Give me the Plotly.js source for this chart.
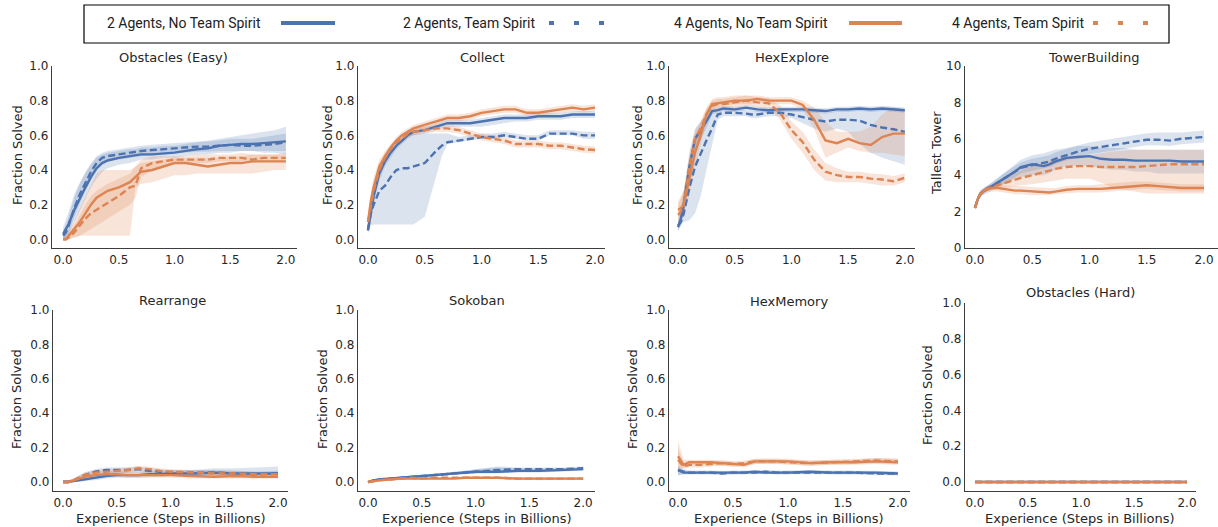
<!DOCTYPE html>
<html>
<head>
<meta charset="utf-8">
<script src="https://cdn.plot.ly/plotly-3.0.1.min.js"></script>
<style>html,body{margin:0;padding:0;background:#fff}#chart{width:1218px;height:527px}</style>
</head>
<body>
<div id="chart"></div>
<script>
// ---------- x grids (billions of steps) ----------
const X1 = [0,0.025,0.05,0.1,0.15,0.2,0.25,0.3,0.35,0.4,0.5,0.6,0.65,0.7,0.8,0.9,1.0,1.1,1.2,1.3,1.4,1.5,1.6,1.7,1.8,1.9,2.0];
const X2 = [0,0.05,0.1,0.2,0.3,0.4,0.5,0.6,0.7,0.8,0.9,1.0,1.2,1.4,1.6,1.8,2.0];

// ---------- labels ----------
const seriesNames = ["2 Agents, No Team Spirit","2 Agents, Team Spirit","4 Agents, No Team Spirit","4 Agents, Team Spirit"];
const panelTitles = ["Obstacles (Easy)","Collect","HexExplore","TowerBuilding","Rearrange","Sokoban","HexMemory","Obstacles (Hard)"];
const yTitles = ["Fraction Solved","Fraction Solved","Fraction Solved","Tallest Tower","Fraction Solved","Fraction Solved","Fraction Solved","Fraction Solved"];
const xTitle = "Experience (Steps in Billions)";

// ---------- Obstacles (Easy) ----------
const oe_b1    = [0.03,0.06,0.09,0.17,0.24,0.30,0.36,0.41,0.44,0.455,0.47,0.48,0.485,0.49,0.49,0.495,0.50,0.51,0.52,0.525,0.54,0.545,0.55,0.55,0.555,0.56,0.565];
const oe_b1_lo = [0.0,0.01,0.03,0.10,0.17,0.24,0.30,0.35,0.39,0.41,0.43,0.44,0.45,0.46,0.46,0.47,0.47,0.48,0.49,0.49,0.50,0.50,0.51,0.51,0.50,0.50,0.49];
const oe_b1_hi = [0.07,0.11,0.16,0.26,0.33,0.38,0.43,0.47,0.49,0.50,0.51,0.52,0.52,0.53,0.53,0.54,0.54,0.55,0.56,0.57,0.58,0.59,0.60,0.61,0.62,0.63,0.65];
const oe_b2    = [0.02,0.04,0.08,0.18,0.26,0.33,0.39,0.44,0.47,0.48,0.49,0.50,0.505,0.51,0.515,0.52,0.525,0.53,0.535,0.535,0.54,0.545,0.54,0.54,0.545,0.55,0.56];
const oe_b2_lo = [0.0,0.01,0.04,0.13,0.21,0.28,0.34,0.40,0.44,0.45,0.46,0.47,0.475,0.48,0.485,0.49,0.495,0.50,0.505,0.505,0.51,0.51,0.51,0.51,0.51,0.51,0.51];
const oe_b2_hi = [0.05,0.08,0.13,0.24,0.32,0.39,0.44,0.48,0.50,0.51,0.52,0.53,0.535,0.54,0.545,0.55,0.555,0.56,0.565,0.565,0.57,0.58,0.58,0.58,0.59,0.60,0.61];
const oe_o1    = [0.0,0.0,0.02,0.06,0.10,0.15,0.20,0.24,0.26,0.28,0.30,0.33,0.36,0.39,0.40,0.42,0.44,0.44,0.43,0.42,0.43,0.44,0.44,0.45,0.45,0.45,0.45];
const oe_o1_lo = [0,0,0,0.01,0.02,0.02,0.02,0.02,0.02,0.02,0.02,0.02,0.30,0.32,0.33,0.35,0.37,0.37,0.38,0.38,0.38,0.38,0.38,0.38,0.39,0.40,0.40];
const oe_o1_hi = [0.01,0.02,0.05,0.10,0.18,0.25,0.32,0.38,0.40,0.40,0.40,0.40,0.42,0.44,0.45,0.46,0.47,0.47,0.47,0.47,0.47,0.48,0.48,0.49,0.49,0.49,0.50];
const oe_o2    = [0.0,0.0,0.01,0.04,0.08,0.12,0.15,0.17,0.19,0.21,0.25,0.30,0.31,0.41,0.44,0.45,0.46,0.46,0.46,0.46,0.47,0.47,0.47,0.46,0.47,0.47,0.47];
const oe_o2_lo = [0,0,0,0.01,0.02,0.04,0.06,0.08,0.10,0.12,0.16,0.20,0.24,0.36,0.40,0.42,0.44,0.44,0.44,0.44,0.45,0.45,0.45,0.44,0.45,0.45,0.45];
const oe_o2_hi = [0.01,0.02,0.04,0.08,0.14,0.20,0.25,0.28,0.30,0.32,0.35,0.38,0.42,0.46,0.48,0.48,0.48,0.48,0.49,0.49,0.49,0.49,0.50,0.49,0.49,0.49,0.49];

// ---------- Collect ----------
const co_b1    = [0.05,0.15,0.25,0.38,0.45,0.50,0.54,0.57,0.60,0.62,0.63,0.65,0.66,0.67,0.67,0.67,0.68,0.69,0.70,0.70,0.70,0.71,0.71,0.71,0.72,0.72,0.72];
const co_b1_lo = [0.03,0.12,0.21,0.34,0.42,0.47,0.52,0.55,0.58,0.60,0.61,0.63,0.64,0.65,0.65,0.65,0.65,0.66,0.67,0.68,0.68,0.69,0.69,0.69,0.70,0.70,0.70];
const co_b1_hi = [0.07,0.18,0.29,0.42,0.48,0.53,0.56,0.59,0.62,0.64,0.65,0.67,0.68,0.69,0.69,0.69,0.70,0.71,0.72,0.72,0.72,0.73,0.73,0.73,0.74,0.74,0.74];
const co_b2    = [0.06,0.15,0.20,0.28,0.31,0.36,0.40,0.41,0.41,0.42,0.44,0.51,0.54,0.56,0.57,0.58,0.59,0.59,0.60,0.59,0.58,0.58,0.61,0.61,0.61,0.60,0.60];
const co_b2_lo = [0.05,0.08,0.086,0.086,0.086,0.086,0.086,0.086,0.086,0.086,0.13,0.37,0.48,0.55,0.56,0.57,0.58,0.58,0.59,0.58,0.57,0.57,0.60,0.60,0.60,0.58,0.58];
const co_b2_hi = [0.10,0.25,0.32,0.42,0.47,0.52,0.55,0.58,0.60,0.61,0.61,0.61,0.61,0.61,0.59,0.60,0.61,0.61,0.62,0.61,0.60,0.60,0.63,0.63,0.63,0.62,0.62];
const co_o1    = [0.10,0.22,0.30,0.42,0.48,0.53,0.57,0.60,0.62,0.64,0.66,0.68,0.69,0.70,0.70,0.71,0.73,0.74,0.75,0.75,0.73,0.73,0.74,0.75,0.76,0.75,0.76];
const co_o1_lo = [0.06,0.16,0.24,0.38,0.45,0.51,0.55,0.58,0.60,0.62,0.64,0.66,0.67,0.68,0.68,0.69,0.71,0.72,0.73,0.73,0.71,0.71,0.72,0.73,0.74,0.73,0.74];
const co_o1_hi = [0.14,0.28,0.36,0.46,0.51,0.55,0.59,0.62,0.64,0.66,0.68,0.70,0.71,0.72,0.72,0.73,0.75,0.76,0.77,0.77,0.75,0.75,0.76,0.77,0.78,0.77,0.78];
const co_o2    = [0.10,0.20,0.28,0.40,0.47,0.52,0.56,0.58,0.61,0.62,0.63,0.64,0.64,0.64,0.63,0.61,0.59,0.58,0.57,0.55,0.55,0.55,0.54,0.54,0.53,0.52,0.515];
const co_o2_lo = [0.07,0.15,0.23,0.37,0.45,0.50,0.54,0.56,0.59,0.60,0.61,0.62,0.62,0.62,0.61,0.59,0.57,0.56,0.55,0.53,0.53,0.53,0.52,0.52,0.51,0.50,0.495];
const co_o2_hi = [0.13,0.25,0.33,0.43,0.49,0.54,0.58,0.60,0.63,0.64,0.65,0.66,0.66,0.66,0.65,0.63,0.61,0.60,0.59,0.57,0.57,0.57,0.56,0.56,0.55,0.54,0.535];

// ---------- HexExplore ----------
const he_b1    = [0.07,0.12,0.20,0.42,0.58,0.63,0.68,0.74,0.745,0.755,0.75,0.76,0.755,0.75,0.745,0.75,0.75,0.75,0.745,0.74,0.75,0.75,0.755,0.75,0.755,0.75,0.745];
const he_b1_lo = [0.05,0.08,0.14,0.32,0.50,0.58,0.64,0.72,0.73,0.74,0.735,0.745,0.74,0.735,0.73,0.735,0.735,0.735,0.73,0.725,0.735,0.735,0.74,0.735,0.74,0.735,0.73];
const he_b1_hi = [0.10,0.17,0.27,0.50,0.64,0.68,0.72,0.76,0.76,0.77,0.765,0.775,0.77,0.765,0.76,0.765,0.765,0.765,0.76,0.755,0.765,0.765,0.77,0.765,0.77,0.765,0.76];
const he_b2    = [0.08,0.10,0.15,0.30,0.42,0.50,0.57,0.64,0.72,0.73,0.73,0.725,0.72,0.72,0.73,0.73,0.72,0.705,0.69,0.68,0.69,0.69,0.685,0.66,0.645,0.635,0.62];
const he_b2_lo = [0.05,0.08,0.10,0.11,0.15,0.25,0.40,0.55,0.69,0.71,0.71,0.71,0.70,0.70,0.71,0.71,0.70,0.67,0.64,0.62,0.64,0.62,0.55,0.50,0.47,0.45,0.43];
const he_b2_hi = [0.12,0.18,0.28,0.45,0.60,0.65,0.70,0.74,0.75,0.75,0.75,0.745,0.74,0.74,0.75,0.75,0.74,0.74,0.74,0.73,0.74,0.75,0.76,0.76,0.76,0.76,0.75];
const he_o1    = [0.17,0.18,0.20,0.35,0.50,0.60,0.72,0.78,0.785,0.79,0.80,0.80,0.805,0.81,0.80,0.80,0.80,0.775,0.69,0.57,0.555,0.58,0.555,0.545,0.59,0.61,0.61];
const he_o1_lo = [0.13,0.14,0.15,0.25,0.42,0.55,0.68,0.75,0.76,0.77,0.78,0.78,0.78,0.79,0.78,0.78,0.78,0.75,0.64,0.47,0.50,0.53,0.51,0.50,0.50,0.49,0.48];
const he_o1_hi = [0.22,0.25,0.28,0.45,0.60,0.68,0.76,0.81,0.82,0.82,0.83,0.83,0.83,0.83,0.82,0.82,0.82,0.80,0.76,0.68,0.62,0.62,0.62,0.65,0.72,0.76,0.74];
const he_o2    = [0.14,0.16,0.20,0.42,0.58,0.64,0.72,0.77,0.78,0.78,0.79,0.80,0.795,0.79,0.785,0.73,0.63,0.56,0.46,0.39,0.37,0.36,0.36,0.35,0.345,0.335,0.355];
const he_o2_lo = [0.10,0.12,0.15,0.35,0.53,0.60,0.69,0.74,0.75,0.75,0.76,0.77,0.77,0.76,0.755,0.69,0.58,0.50,0.40,0.34,0.33,0.33,0.33,0.32,0.31,0.31,0.33];
const he_o2_hi = [0.20,0.24,0.28,0.50,0.63,0.68,0.75,0.80,0.81,0.81,0.82,0.83,0.825,0.82,0.815,0.77,0.68,0.62,0.52,0.44,0.41,0.39,0.39,0.38,0.375,0.365,0.38];

// ---------- TowerBuilding ----------
const tb_b1    = [2.2,2.7,3.0,3.25,3.4,3.6,3.8,4.0,4.2,4.45,4.6,4.5,4.6,4.75,4.95,5.0,5.05,4.9,4.85,4.85,4.8,4.8,4.8,4.8,4.75,4.75,4.75];
const tb_b1_lo = [2.1,2.5,2.8,3.1,3.25,3.4,3.5,3.6,3.8,3.9,4.0,4.0,4.1,4.3,4.5,4.5,4.5,4.4,4.3,4.3,4.2,4.2,4.1,4.1,4.1,4.1,4.1];
const tb_b1_hi = [2.3,2.9,3.2,3.4,3.6,3.85,4.1,4.35,4.6,4.85,5.1,5.2,5.3,5.4,5.5,5.6,5.6,5.5,5.5,5.5,5.4,5.4,5.4,5.4,5.4,5.4,5.4];
const tb_b2    = [2.2,2.7,3.0,3.2,3.4,3.6,3.8,4.0,4.2,4.4,4.55,4.7,4.75,4.9,5.1,5.3,5.45,5.55,5.65,5.75,5.85,5.95,5.95,5.9,6.0,6.05,6.1];
const tb_b2_lo = [2.1,2.55,2.85,3.0,3.15,3.3,3.5,3.7,3.9,4.1,4.25,4.4,4.45,4.6,4.8,5.0,5.15,5.25,5.35,5.45,5.55,5.65,5.65,5.6,5.7,5.75,5.8];
const tb_b2_hi = [2.3,2.85,3.15,3.4,3.6,3.85,4.1,4.3,4.5,4.7,4.9,5.05,5.1,5.25,5.45,5.65,5.8,5.9,6.0,6.1,6.2,6.3,6.35,6.35,6.35,6.4,6.45];
const tb_o1    = [2.2,2.7,3.0,3.25,3.3,3.3,3.25,3.2,3.15,3.15,3.1,3.05,3.05,3.1,3.2,3.25,3.25,3.25,3.3,3.35,3.4,3.45,3.4,3.35,3.3,3.3,3.3];
const tb_o1_lo = [2.1,2.55,2.85,3.1,3.1,3.1,3.05,3.0,2.95,2.95,2.9,2.9,2.9,2.95,3.0,3.05,3.05,3.05,3.1,3.15,3.2,3.25,3.2,3.15,3.1,3.1,3.1];
const tb_o1_hi = [2.3,2.85,3.15,3.4,3.5,3.5,3.45,3.4,3.4,3.4,3.35,3.3,3.3,3.3,3.4,3.45,3.45,3.5,3.55,3.6,3.65,3.65,3.6,3.55,3.5,3.5,3.5];
const tb_o2    = [2.2,2.7,3.0,3.2,3.35,3.45,3.55,3.65,3.75,3.85,4.0,4.15,4.25,4.35,4.45,4.5,4.5,4.45,4.45,4.45,4.45,4.5,4.55,4.6,4.6,4.6,4.6];
const tb_o2_lo = [2.1,2.6,2.9,3.1,3.2,3.25,3.3,3.35,3.4,3.45,3.5,3.6,3.65,3.7,3.8,3.8,3.8,3.6,3.3,3.2,3.1,3.0,3.0,3.0,3.0,3.0,3.0];
const tb_o2_hi = [2.3,2.8,3.1,3.3,3.5,3.65,3.8,3.95,4.1,4.25,4.5,4.7,4.8,4.9,5.0,5.1,5.1,5.2,5.3,5.35,5.4,5.4,5.4,5.4,5.4,5.4,5.4];

// ---------- Rearrange ----------
const re_b1    = [0.0,0.0,0.005,0.015,0.025,0.035,0.04,0.04,0.04,0.045,0.045,0.05,0.05,0.055,0.05,0.05,0.05];
const re_b1_lo = [0.0,0.0,0.0,0.005,0.01,0.02,0.025,0.025,0.025,0.03,0.03,0.035,0.035,0.035,0.03,0.03,0.025];
const re_b1_hi = [0.01,0.01,0.015,0.03,0.045,0.055,0.06,0.06,0.06,0.065,0.065,0.07,0.07,0.08,0.08,0.085,0.09];
const re_b2    = [0.0,0.0,0.01,0.04,0.06,0.07,0.07,0.07,0.075,0.065,0.06,0.055,0.055,0.055,0.05,0.045,0.05];
const re_b2_lo = [0.0,0.0,0.0,0.025,0.045,0.055,0.055,0.055,0.06,0.05,0.045,0.04,0.04,0.04,0.035,0.03,0.035];
const re_b2_hi = [0.01,0.01,0.02,0.055,0.075,0.085,0.085,0.085,0.09,0.08,0.075,0.07,0.07,0.07,0.065,0.06,0.065];
const re_o1    = [0.0,0.0,0.01,0.03,0.04,0.045,0.045,0.04,0.04,0.04,0.04,0.04,0.035,0.03,0.035,0.03,0.03];
const re_o1_lo = [0.0,0.0,0.0,0.015,0.025,0.03,0.03,0.025,0.025,0.025,0.025,0.025,0.02,0.02,0.02,0.02,0.02];
const re_o1_hi = [0.01,0.01,0.02,0.05,0.06,0.065,0.065,0.06,0.06,0.055,0.055,0.055,0.05,0.045,0.05,0.045,0.045];
const re_o2    = [0.0,0.0,0.01,0.04,0.055,0.06,0.065,0.07,0.08,0.075,0.065,0.06,0.055,0.05,0.05,0.045,0.045];
const re_o2_lo = [0.0,0.0,0.0,0.025,0.04,0.045,0.05,0.055,0.065,0.06,0.05,0.045,0.04,0.035,0.035,0.03,0.03];
const re_o2_hi = [0.01,0.01,0.02,0.055,0.07,0.075,0.08,0.085,0.095,0.09,0.08,0.075,0.07,0.065,0.065,0.06,0.06];

// ---------- Sokoban ----------
const so_b1    = [0.0,0.01,0.015,0.02,0.025,0.03,0.035,0.04,0.045,0.05,0.055,0.06,0.06,0.065,0.065,0.07,0.075];
const so_b1_lo = [0.0,0.005,0.01,0.015,0.02,0.025,0.03,0.035,0.04,0.045,0.045,0.05,0.05,0.055,0.055,0.06,0.065];
const so_b1_hi = [0.005,0.015,0.02,0.025,0.03,0.035,0.04,0.045,0.05,0.06,0.065,0.075,0.085,0.08,0.08,0.08,0.085];
const so_b2    = [0.0,0.01,0.015,0.02,0.025,0.03,0.035,0.04,0.045,0.05,0.055,0.06,0.07,0.075,0.075,0.075,0.08];
const so_b2_lo = [0.0,0.005,0.01,0.015,0.02,0.025,0.03,0.035,0.04,0.045,0.045,0.05,0.055,0.06,0.065,0.065,0.07];
const so_b2_hi = [0.005,0.015,0.02,0.025,0.03,0.035,0.04,0.045,0.05,0.06,0.065,0.075,0.09,0.085,0.085,0.085,0.09];
const so_o1    = [0.0,0.005,0.01,0.015,0.02,0.02,0.02,0.02,0.02,0.02,0.025,0.025,0.025,0.02,0.02,0.02,0.02];
const so_o1_lo = [0.0,0.0,0.005,0.01,0.015,0.015,0.015,0.015,0.015,0.015,0.02,0.02,0.02,0.015,0.015,0.015,0.015];
const so_o1_hi = [0.005,0.01,0.015,0.02,0.025,0.025,0.025,0.025,0.025,0.025,0.03,0.03,0.03,0.025,0.025,0.025,0.025];
const so_o2    = [0.0,0.005,0.01,0.015,0.02,0.025,0.02,0.025,0.025,0.025,0.025,0.025,0.025,0.02,0.02,0.02,0.02];
const so_o2_lo = [0.0,0.0,0.005,0.01,0.015,0.02,0.015,0.02,0.02,0.02,0.02,0.02,0.02,0.015,0.01,0.015,0.015];
const so_o2_hi = [0.005,0.01,0.015,0.02,0.025,0.03,0.025,0.03,0.03,0.03,0.03,0.03,0.03,0.025,0.025,0.025,0.025];

// ---------- HexMemory ----------
const hm_b1    = [0.07,0.055,0.055,0.055,0.055,0.055,0.055,0.055,0.06,0.055,0.055,0.055,0.06,0.055,0.055,0.055,0.05];
const hm_b1_lo = [0.04,0.045,0.045,0.045,0.045,0.045,0.045,0.045,0.05,0.045,0.045,0.045,0.05,0.045,0.045,0.045,0.04];
const hm_b1_hi = [0.09,0.07,0.065,0.065,0.065,0.065,0.065,0.065,0.07,0.065,0.065,0.065,0.07,0.065,0.065,0.065,0.06];
const hm_b2    = [0.07,0.06,0.055,0.055,0.055,0.05,0.055,0.055,0.055,0.06,0.055,0.055,0.055,0.055,0.055,0.05,0.05];
const hm_b2_lo = [0.04,0.045,0.045,0.045,0.045,0.04,0.045,0.045,0.045,0.05,0.045,0.045,0.045,0.045,0.045,0.04,0.04];
const hm_b2_hi = [0.09,0.075,0.065,0.065,0.065,0.06,0.065,0.065,0.065,0.07,0.065,0.065,0.065,0.065,0.065,0.06,0.06];
const hm_o1    = [0.15,0.10,0.115,0.115,0.115,0.11,0.105,0.10,0.12,0.12,0.12,0.12,0.11,0.115,0.115,0.12,0.115];
const hm_o1_lo = [0.08,0.085,0.10,0.10,0.10,0.095,0.09,0.085,0.105,0.105,0.105,0.105,0.095,0.10,0.10,0.105,0.10];
const hm_o1_hi = [0.24,0.13,0.13,0.13,0.13,0.125,0.12,0.115,0.135,0.135,0.135,0.135,0.125,0.13,0.13,0.14,0.135];
const hm_o2    = [0.13,0.09,0.10,0.10,0.105,0.11,0.105,0.11,0.12,0.12,0.12,0.115,0.11,0.115,0.12,0.125,0.12];
const hm_o2_lo = [0.08,0.075,0.085,0.085,0.09,0.095,0.09,0.095,0.105,0.105,0.105,0.10,0.095,0.10,0.105,0.11,0.105];
const hm_o2_hi = [0.20,0.11,0.115,0.115,0.12,0.125,0.12,0.125,0.135,0.135,0.135,0.13,0.125,0.13,0.135,0.14,0.135];

// ---------- Obstacles (Hard) ----------
const oh_b1 = [0,0,0,0,0,0,0,0,0,0,0,0,0,0,0,0,0];
const oh_b2 = [0,0,0,0,0,0,0,0,0,0,0,0,0,0,0,0,0];
const oh_o1 = [0,0,0,0,0,0,0,0,0,0,0,0,0,0,0,0,0];
const oh_o2 = [0,0,0,0,0,0,0,0,0,0,0,0,0,0,0,0,0];

// ---------- styling ----------
const BLUE = '#4C72B0', ORANGE = '#DD8452';
const BLUE_F = 'rgba(76,114,176,0.2)', ORANGE_F = 'rgba(221,132,82,0.22)';
const DASH = '7px,3.5px';
const styles = [
  {color: BLUE, fill: BLUE_F, dash: 'solid'},
  {color: BLUE, fill: BLUE_F, dash: DASH},
  {color: ORANGE, fill: ORANGE_F, dash: 'solid'},
  {color: ORANGE, fill: ORANGE_F, dash: DASH}
];

const panels = [
  {x: X1, s: [[oe_b1,oe_b1_lo,oe_b1_hi],[oe_b2,oe_b2_lo,oe_b2_hi],[oe_o1,oe_o1_lo,oe_o1_hi],[oe_o2,oe_o2_lo,oe_o2_hi]]},
  {x: X1, s: [[co_b1,co_b1_lo,co_b1_hi],[co_b2,co_b2_lo,co_b2_hi],[co_o1,co_o1_lo,co_o1_hi],[co_o2,co_o2_lo,co_o2_hi]]},
  {x: X1, s: [[he_b1,he_b1_lo,he_b1_hi],[he_b2,he_b2_lo,he_b2_hi],[he_o1,he_o1_lo,he_o1_hi],[he_o2,he_o2_lo,he_o2_hi]]},
  {x: X1, s: [[tb_b1,tb_b1_lo,tb_b1_hi],[tb_b2,tb_b2_lo,tb_b2_hi],[tb_o1,tb_o1_lo,tb_o1_hi],[tb_o2,tb_o2_lo,tb_o2_hi]]},
  {x: X2, s: [[re_b1,re_b1_lo,re_b1_hi],[re_b2,re_b2_lo,re_b2_hi],[re_o1,re_o1_lo,re_o1_hi],[re_o2,re_o2_lo,re_o2_hi]]},
  {x: X2, s: [[so_b1,so_b1_lo,so_b1_hi],[so_b2,so_b2_lo,so_b2_hi],[so_o1,so_o1_lo,so_o1_hi],[so_o2,so_o2_lo,so_o2_hi]]},
  {x: X2, s: [[hm_b1,hm_b1_lo,hm_b1_hi],[hm_b2,hm_b2_lo,hm_b2_hi],[hm_o1,hm_o1_lo,hm_o1_hi],[hm_o2,hm_o2_lo,hm_o2_hi]]},
  {x: X2, s: [[oh_b1,oh_b1,oh_b1],[oh_b2,oh_b2,oh_b2],[oh_o1,oh_o1,oh_o1],[oh_o2,oh_o2,oh_o2]]}
];

// ---------- geometry (pixels in 1218x527) ----------
const W = 1218, H = 527;
const geom = [
  {x0:52,  x1:297,  y0:66,  y1:248, xr:[-0.1,2.1],    yr:[-0.05,1.0]},
  {x0:358, x1:605,  y0:66,  y1:248, xr:[-0.088,2.088],yr:[-0.05,1.0]},
  {x0:669, x1:915,  y0:66,  y1:248, xr:[-0.08,2.09],  yr:[-0.05,1.0]},
  {x0:965, x1:1218, y0:66,  y1:248, xr:[-0.087,2.122],yr:[0,10]},
  {x0:53,  x1:288,  y0:310, y1:491, xr:[-0.093,2.093],yr:[-0.052,1.0]},
  {x0:358, x1:595,  y0:310, y1:491, xr:[-0.093,2.11], yr:[-0.052,1.0]},
  {x0:669, x1:910,  y0:310, y1:491, xr:[-0.082,2.11], yr:[-0.052,1.0]},
  {x0:965, x1:1196, y0:303, y1:491, xr:[-0.094,2.085],yr:[-0.05,1.0]}
];
const titlePos = [[173,57],[482,57],[792,57],[1093,57],[172,300],[477,300],[789,301],[1080,292]];
const yTitlePos = [[17,155],[327,155],[637,155],[937,153],[16,399],[322,399],[632,399],[927,395]];
const xTitlePos = [[171,518],[477,518],[789,518],[1080,518]];

const TXT = '#262626';
const FONT = 'DejaVu Sans, sans-serif';
const traces = [];
const layout = {
  width: W, height: H,
  margin: {l:0, r:0, t:0, b:0},
  paper_bgcolor: '#fff', plot_bgcolor: 'rgba(0,0,0,0)',
  showlegend: false,
  annotations: [], shapes: []
};

panels.forEach((p, i) => {
  const k = i === 0 ? '' : String(i + 1);
  const xa = 'x' + k, ya = 'y' + k;
  // bands
  p.s.forEach((sr, j) => {
    traces.push({x: p.x, y: sr[1], xaxis: xa, yaxis: ya, type: 'scatter', mode: 'lines',
      line: {width: 0, color: styles[j].fill}, hoverinfo: 'skip'});
    traces.push({x: p.x, y: sr[2], xaxis: xa, yaxis: ya, type: 'scatter', mode: 'lines',
      line: {width: 0, color: styles[j].fill}, fill: 'tonexty', fillcolor: styles[j].fill, hoverinfo: 'skip'});
  });
  // means
  p.s.forEach((sr, j) => {
    traces.push({x: p.x, y: sr[0], xaxis: xa, yaxis: ya, type: 'scatter', mode: 'lines',
      name: seriesNames[j], line: {width: 2.4, color: styles[j].color, dash: styles[j].dash}});
  });
  const g = geom[i];
  layout['xaxis' + k] = {
    domain: [g.x0 / W, g.x1 / W], range: g.xr, anchor: ya,
    showline: true, linecolor: '#3d3d3d', linewidth: 1.25, showgrid: false, zeroline: false,
    ticks: '', tick0: 0, dtick: 0.5, tickformat: '.1f', ticklabeloverflow: 'allow',
    tickfont: {family: FONT, size: 12, color: TXT}, fixedrange: true
  };
  layout['yaxis' + k] = {
    domain: [1 - g.y1 / H, 1 - g.y0 / H], range: g.yr, anchor: xa,
    showline: true, linecolor: '#3d3d3d', linewidth: 1.25, showgrid: false, zeroline: false,
    ticks: '', tick0: 0, dtick: i === 3 ? 2 : 0.2, tickformat: i === 3 ? 'd' : '.1f',
    ticklabeloverflow: 'allow',
    tickfont: {family: FONT, size: 12, color: TXT}, fixedrange: true
  };
  layout.annotations.push({text: panelTitles[i], xref: 'paper', yref: 'paper',
    x: titlePos[i][0] / W, y: 1 - titlePos[i][1] / H, xanchor: 'center', yanchor: 'middle',
    showarrow: false, font: {family: FONT, size: 13, color: TXT}});
  layout.annotations.push({text: yTitles[i], xref: 'paper', yref: 'paper', textangle: -90,
    x: yTitlePos[i][0] / W, y: 1 - yTitlePos[i][1] / H, xanchor: 'center', yanchor: 'middle',
    showarrow: false, font: {family: FONT, size: 13, color: TXT}});
});
xTitlePos.forEach(pos => {
  layout.annotations.push({text: xTitle, xref: 'paper', yref: 'paper',
    x: pos[0] / W, y: 1 - pos[1] / H, xanchor: 'center', yanchor: 'middle',
    showarrow: false, font: {family: FONT, size: 13, color: TXT}});
});

// ---------- legend box (drawn in paper space) ----------
const LEG_FONT = 'Roboto, sans-serif';
layout.shapes.push({type: 'rect', xref: 'paper', yref: 'paper',
  x0: 84 / W, x1: 1169 / W, y0: 1 - 43 / H, y1: 1 - 5 / H,
  line: {color: '#000', width: 1.2}, fillcolor: 'rgba(0,0,0,0)'});
const legItems = [
  {tx: 105, l0: 281, l1: 335, color: BLUE, dash: 'solid'},
  {tx: 401, l0: 549, l1: 604, color: BLUE, dash: '5px,20px'},
  {tx: 672, l0: 849, l1: 902, color: ORANGE, dash: 'solid'},
  {tx: 950, l0: 1093, l1: 1148, color: ORANGE, dash: '5px,20px'}
];
legItems.forEach((it, j) => {
  layout.annotations.push({text: seriesNames[j], xref: 'paper', yref: 'paper',
    x: it.tx / W, y: 1 - 23 / H, xanchor: 'left', yanchor: 'middle', showarrow: false,
    font: {family: LEG_FONT, size: 14, color: '#222'}});
  layout.shapes.push({type: 'line', xref: 'paper', yref: 'paper',
    x0: it.l0 / W, x1: it.l1 / W, y0: 1 - 23 / H, y1: 1 - 23 / H,
    line: {color: it.color, width: 4, dash: it.dash}});
});

Plotly.newPlot('chart', traces, layout, {displayModeBar: false, staticPlot: true});
</script>
</body>
</html>
